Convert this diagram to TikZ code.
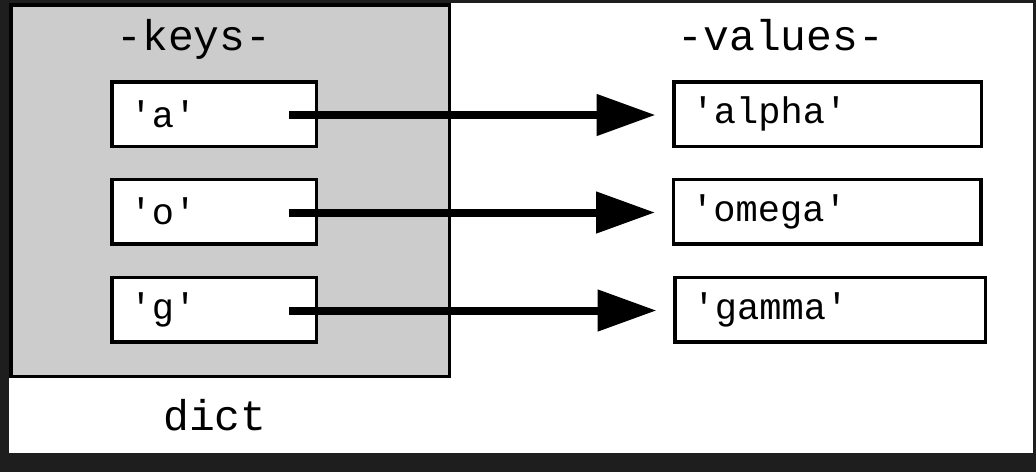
\documentclass[tikz,border=0pt]{standalone}
\usepackage{fontspec}
\setmonofont{Liberation Mono}
\usetikzlibrary{arrows.meta}
\definecolor{frame}{HTML}{1E1E1E}
\definecolor{dictgray}{HTML}{CCCCCC}
\tikzset{
  box/.style={draw=black, line width=3.5pt, fill=white, inner xsep=18pt, inner ysep=0pt,
    minimum height=64.5pt, align=left, font=\ttfamily\fontsize{37}{39}\selectfont},
  keybox/.style={box, minimum width=204.5pt, text width=168.5pt},
  valbox/.style={box, minimum width=307.5pt, text width=271.5pt},
  header/.style={anchor=base, inner sep=0pt, font=\ttfamily\fontsize{43}{45}\selectfont},
  arr/.style={line width=8pt, -{Triangle[length=59pt,width=40pt]}, shorten >=16.5pt},
}
\begin{document}
\begin{tikzpicture}[x=1pt,y=-1pt]
\useasboundingbox (0,0) rectangle (1036,472);
\fill[frame] (0,0) rectangle (1036,472);
\fill[white] (9,3) rectangle (1033,453);
\draw[line width=3.5pt, fill=dictgray] (10.75,4.75) rectangle (449.25,376.25);

\node[header] (hk) at (194,50) {-keys-};
\node[header] (hv) at (781,50) {-values-};
\node[header] (hd) at (215,430) {dict};

\node[keybox] (ka) at (214,114) {'a'};
\node[keybox] (ko) at (214,211.5) {'o'};
\node[keybox] (kg) at (214,309.5) {'g'};

\node[valbox] (va) at (827.5,114) {'alpha'};
\node[valbox] (vo) at (827,211.5) {'omega'};
\node[valbox, minimum width=310.5pt, text width=274.5pt] (vg) at (830,309.5) {'gamma'};

\coordinate (sa) at (289,115);
\coordinate (so) at (289,212.5);
\coordinate (sg) at (289,310.5);

\draw[arr] (sa) -- (sa -| va.west);
\draw[arr] (so) -- (so -| vo.west);
\draw[arr] (sg) -- (sg -| vg.west);
\end{tikzpicture}
\end{document}
